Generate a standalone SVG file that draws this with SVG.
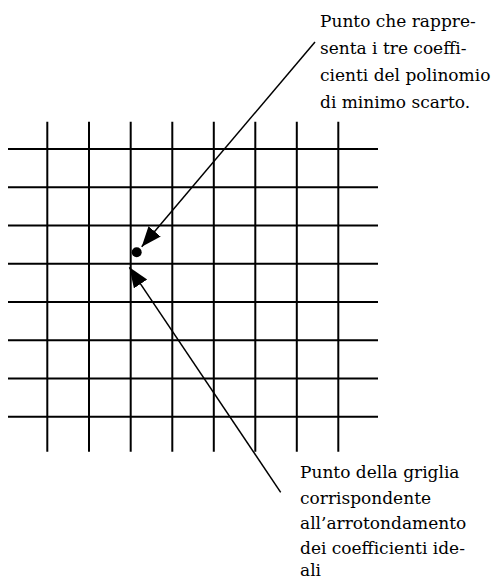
<svg xmlns="http://www.w3.org/2000/svg" width="494" height="581" viewBox="0 0 494 581">
<style>
.grid line{stroke:#000;stroke-width:2;}
.conn{stroke:#000;stroke-width:1.5;fill:none;marker-end:url(#ah);}
.lbl{font-size:17px;fill:#000;}
</style>
<defs>
<marker id="ah" markerUnits="userSpaceOnUse" markerWidth="22" markerHeight="18" refX="20" refY="8" orient="auto">
<path d="M0,0 L20,8 L0,16 z" fill="#000"/>
</marker>
</defs>
<rect width="494" height="581" fill="#fff"/>
<g id="grid" class="grid">
<line x1="8" y1="149" x2="378" y2="149"/>
<line x1="8" y1="187.2" x2="378" y2="187.2"/>
<line x1="8" y1="225.5" x2="378" y2="225.5"/>
<line x1="8" y1="263.7" x2="378" y2="263.7"/>
<line x1="8" y1="302" x2="378" y2="302"/>
<line x1="8" y1="340.2" x2="378" y2="340.2"/>
<line x1="8" y1="378.5" x2="378" y2="378.5"/>
<line x1="8" y1="416.7" x2="378" y2="416.7"/>
<line x1="47.3" y1="121.7" x2="47.3" y2="451.7"/>
<line x1="89" y1="121.7" x2="89" y2="451.7"/>
<line x1="130.7" y1="121.7" x2="130.7" y2="451.7"/>
<line x1="172.3" y1="121.7" x2="172.3" y2="451.7"/>
<line x1="213.8" y1="121.7" x2="213.8" y2="451.7"/>
<line x1="255.3" y1="121.7" x2="255.3" y2="451.7"/>
<line x1="296.8" y1="121.7" x2="296.8" y2="451.7"/>
<line x1="338.3" y1="121.7" x2="338.3" y2="451.7"/>
</g>
<g id="point">
<circle cx="136.7" cy="252.3" r="5" fill="#000"/>
</g>
<g id="connectors">
<line class="conn" x1="315" y1="42" x2="141.7" y2="246.7"/>
<line class="conn" x1="280.7" y1="492.3" x2="129.4" y2="267.3"/>
</g>
<g id="label-top" class="lbl" font-family="'DejaVu Serif', serif">
<text x="320" y="27">Punto che rappre-</text>
<text x="320" y="54">senta i tre coeffi-</text>
<text x="320" y="81">cienti del polinomio</text>
<text x="320" y="108">di minimo scarto.</text>
</g>
<g id="label-bottom" class="lbl" font-family="'DejaVu Serif', serif">
<text x="300" y="478">Punto della griglia</text>
<text x="300" y="503.5">corrispondente</text>
<text x="300" y="528.5">all’arrotondamento</text>
<text x="300" y="553.5">dei coefficienti ide-</text>
<text x="300" y="576">ali</text>
</g>
</svg>
